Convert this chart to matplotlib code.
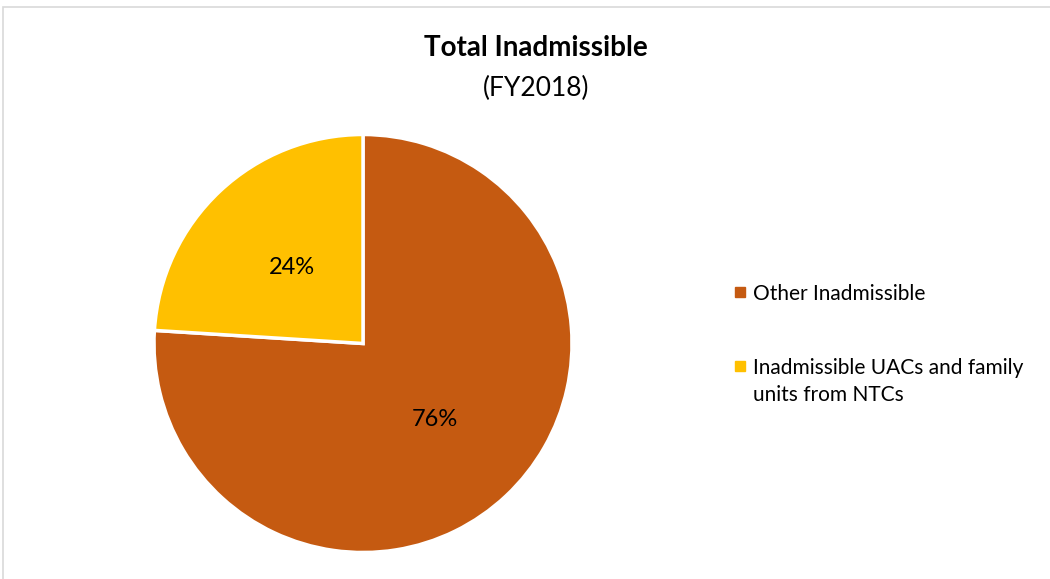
import matplotlib
matplotlib.use("Agg")
import matplotlib.pyplot as plt
from matplotlib.patches import Rectangle

# Datos del grafico
categorias = ["Other Inadmissible", "Inadmissible UACs and family\nunits from NTCs"]
porcentajes = [76, 24]
colores = ["#C55A11", "#FFC000"]

plt.rcParams['font.family'] = ['Lato', 'DejaVu Sans']

W, H = 1050, 579
fig = plt.figure(figsize=(W/100, H/100), dpi=100)

# Marco gris alrededor del grafico
fig.patches.append(Rectangle((3/W, -0.1), 1.2, 1 - 7/H + 0.1, transform=fig.transFigure,
                             fill=False, edgecolor="#d9d9d9", linewidth=1.2))

# Pastel centrado en (363, 343) px con radio ~209
r = 209
cx, cy = 363, 343.5
ax = fig.add_axes([(cx - r)/W, (H - cy - r)/H, 2*r/W, 2*r/H])
wedges, texts, autotexts = ax.pie(porcentajes, colors=colores, startangle=90, counterclock=False,
                                  autopct=lambda p: "%d%%" % round(p), pctdistance=0.5,
                                  wedgeprops=dict(edgecolor="white", linewidth=2.5),
                                  textprops=dict(fontsize=17, color="black"))
ax.set_xlim(-1, 1)
ax.set_ylim(-1, 1)
ax.set_aspect("equal")
ax.axis("off")

fig.text(536/W, 1 - 48/H, "Total Inadmissible", ha="center", va="center", fontsize=20, fontweight="bold")
fig.text(536/W, 1 - 88/H, "(FY2018)", ha="center", va="center", fontsize=19)

# Leyenda manual: marcador alineado con la primera linea del texto
ys = [292, 366]
for cat, col, y in zip(categorias, colores, ys):
    fig.patches.append(Rectangle(((740 - 5)/W, 1 - (y + 5)/H), 10/W, 10/H,
                                 transform=fig.transFigure, color=col))
    fig.text(753/W, 1 - (y - 8)/H, cat, ha="left", va="top", fontsize=15, linespacing=1.45)

plt.savefig("out.png", dpi=100)
